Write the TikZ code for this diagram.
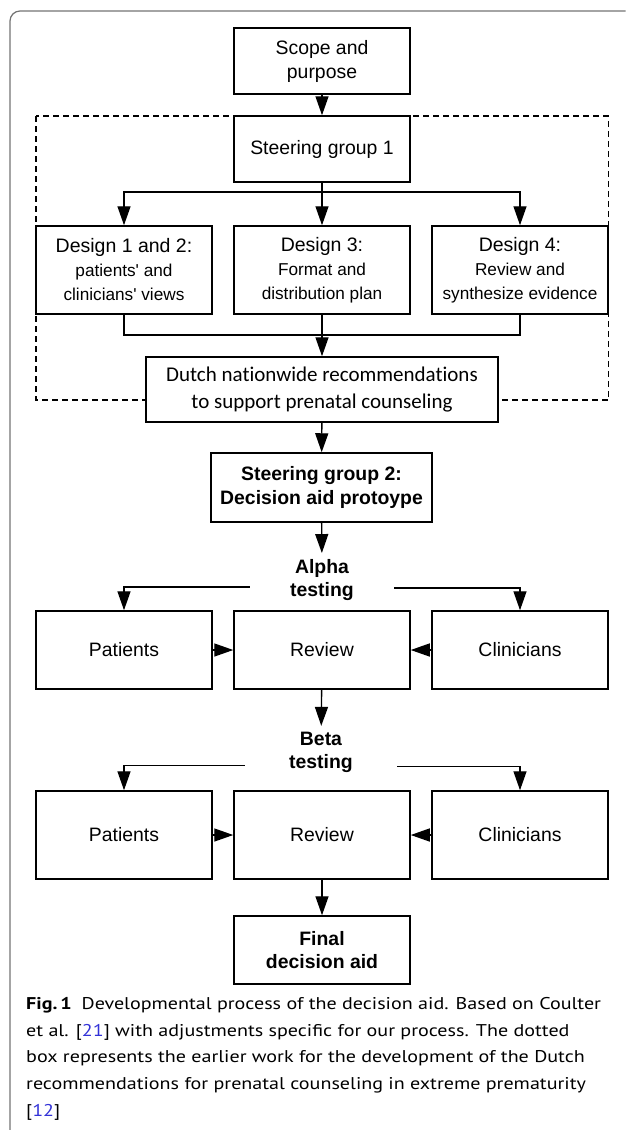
\documentclass[tikz,border=0pt]{standalone}
\usepackage{fontspec}
\setmainfont{Liberation Sans}
\newfontfamily\dutchfont[Ligatures=NoCommon]{Carlito}
\newfontfamily\capfont[FakeStretch=1.18]{PT Sans}
\usetikzlibrary{arrows.meta}
\definecolor{framegray}{RGB}{115,115,115}
\definecolor{linkblue}{RGB}{50,50,215}

\tikzset{
  box/.style={draw, line width=1.5pt, fill=white, inner sep=0pt, minimum width=176pt,
    align=center, font=\fontsize{19.4}{24}\selectfont},
  boldbox/.style={box, font=\bfseries\fontsize{19.4}{23.4}\selectfont},
  stage/.style={inner xsep=0pt, inner ysep=6pt, align=center,
    font=\bfseries\fontsize{19.4}{23.4}\selectfont},
  ln/.style={line width=1.4pt},
  arr/.style={ln, -{Triangle[length=19pt,width=13pt]}},
}
\newcommand{\designtext}[3]{{\fontsize{19.5}{21.5}\selectfont #1}\\
  {\fontsize{17.2}{20.7}\selectfont #2}\\{\fontsize{17.2}{20.7}\selectfont #3}}

\begin{document}
\begin{tikzpicture}[x=1pt,y=1pt]
\clip (0,0) rectangle (627,-1130);
% frame round the figure
\draw[framegray, line width=1.2pt, rounded corners=10pt] (10,-1150) |- (625.5,-11);

% earlier work
\draw[dash pattern=on 6pt off 4pt, line width=1.3pt] (36,-116) rectangle (608.5,-400);

\node[box, minimum height=66pt] (scope) at (322,-61) {Scope and\\purpose};
\node[box, minimum height=66pt] (sg1) at (322,-149) {Steering group 1};
\node[box, minimum height=88pt] (d12) at (124,-270) {\designtext{Design 1 and 2:}{patients\textquotesingle{} and}{clinicians\textquotesingle{} views}};
\node[box, minimum height=88pt] (d3) at (322,-270) {\designtext{Design 3:}{Format and}{distribution plan}};
\node[box, minimum height=88pt] (d4) at (520,-270) {\designtext{Design 4:}{Review and}{synthesize evidence}};
\node[box, minimum width=352pt, minimum height=65pt, font=\dutchfont\fontsize{21}{26.7}\selectfont] (dutch) at (322,-389.5)
  {Dutch nationwide recommendations\\to support prenatal counseling\hspace{14pt}};
\node[boldbox, minimum width=221pt, minimum height=69pt] (sg2) at (321.5,-487.5) {Steering group 2:\\Decision aid protoype};

% alpha testing
\node[stage, minimum width=144pt] (alpha) at (322,-580) {Alpha\\testing};
\node[box, minimum height=78pt] (pa) at (124,-650) {Patients};
\node[box, minimum height=78pt] (ra) at (322,-650) {Review};
\node[box, minimum height=78pt] (ca) at (520,-650) {Clinicians};

% beta testing
\node[stage, minimum width=152pt] (beta) at (321,-752.5) {Beta\\testing};
\node[box, minimum height=88pt] (pb) at (124,-835) {Patients};
\node[box, minimum height=88pt] (rb) at (322,-835) {Review};
\node[box, minimum height=88pt] (cb) at (520,-835) {Clinicians};

\node[boldbox, minimum height=68pt] (final) at (322,-950) {Final\\decision aid};

\coordinate (split) at (322,-192);
\coordinate (merge) at (322,-335);

\draw[arr] (scope) -- (sg1);
\draw[ln] (sg1) -- (split);
\draw[arr] (split) -| (d12.north);
\draw[arr] (split) -- (d3);
\draw[arr] (split) -| (d4.north);
\draw[ln] (d12.south) |- (merge);
\draw[ln] (d4.south) |- (merge);
\draw[ln] (d3) -- (merge);
\draw[arr] (merge) -- (dutch);
\draw[arr] (dutch) -- (sg2);
\draw[arr] (sg2) -- (alpha);

\draw[arr] ([yshift=-7pt]alpha.west) -| (pa.north);
\draw[arr] ([yshift=-8pt]alpha.east) -| (ca.north);
\draw[arr] (pa) -- (ra);
\draw[arr] (ca) -- (ra);
\draw[arr] (ra) -- (beta);

\draw[arr] ([yshift=-13pt]beta.west) -| (pb.north);
\draw[arr] ([yshift=-14pt]beta.east) -| (cb.north);
\draw[arr] (pb) -- (rb);
\draw[arr] (cb) -- (rb);
\draw[arr] (rb) -- (final);

% caption
\node[anchor=north west, inner sep=0pt, align=left, font=\capfont\fontsize{17}{26.7}\selectfont] (caption) at (26,-997)
  {{\bfseries Fig.\,1}\hspace{10pt}Developmental process of the decision aid. Based on Coulter\\
   et al. [{\color{linkblue}21}] with adjustments specific for our process. The dotted\\
   box represents the earlier work for the development of the Dutch\\
   recommendations for prenatal counseling in extreme prematurity\\
   {[}{\color{linkblue}12}]};
\end{tikzpicture}
\end{document}
